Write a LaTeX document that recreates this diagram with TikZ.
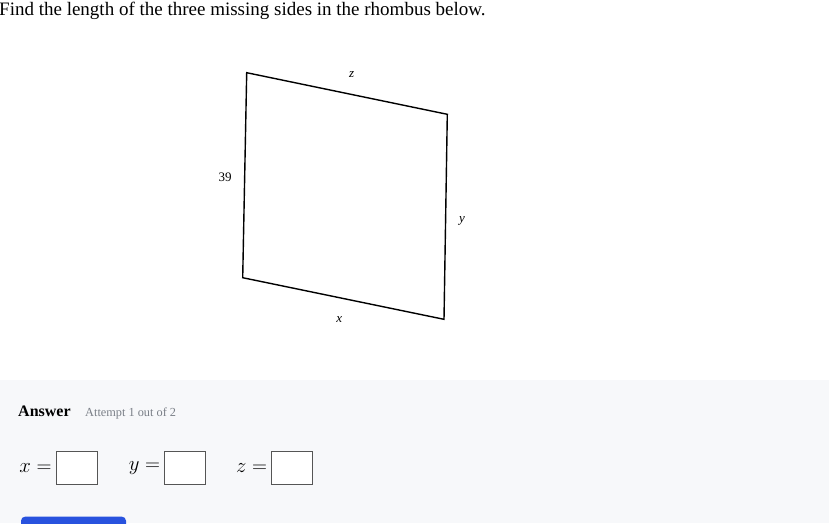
\documentclass[tikz,border=0pt]{standalone}
\usepackage{fontspec}
\setmainfont{Liberation Serif}
\definecolor{panelbg}{HTML}{F7F8FA}
\definecolor{btnblue}{RGB}{40,82,222}
\definecolor{boxedge}{HTML}{555555}
\definecolor{attemptgray}{HTML}{7A7F87}
\begin{document}
\begin{tikzpicture}[x=1pt,y=-1pt,
  lbl/.style={inner sep=0pt,font=\fontsize{13}{15}\selectfont\itshape},
  ansbox/.style={draw=boxedge,line width=1pt,fill=white,minimum width=41pt,minimum height=33pt,inner sep=0pt},
  mathlbl/.style={inner sep=0pt,anchor=east,font=\fontsize{20}{24}\selectfont}]
\useasboundingbox (0,0) rectangle (829,523);
\fill[white] (0,0) rectangle (829,523);
\fill[panelbg] (0,379.5) rectangle (829,523);
% title
\node[anchor=base west,inner sep=0pt,font=\fontsize{19}{22}\selectfont] (title) at (-1,15.5) {Find the length of the three missing sides in the rhombus below.};
% rhombus
\coordinate (A) at (246.7,72.7);
\coordinate (B) at (447.3,114.3);
\coordinate (C) at (444,319.3);
\coordinate (D) at (242.7,277.7);
\draw[line width=1.4pt,line join=miter] (A) -- (B) -- (C) -- (D) -- cycle;
\node[lbl] (lz) at (351.7,74.5) {z};
\node[lbl] (ly) at (462,221) {y};
\node[lbl] (lx) at (339.3,320) {x};
\node[inner sep=0pt,font=\fontsize{13}{15}\selectfont] (l39) at (225,177.3) {39};
% answer
\node[anchor=base west,inner sep=0pt,font=\fontsize{16}{19}\selectfont\bfseries] (ans) at (18,416) {Answer};
\node[anchor=base west,inner sep=0pt,font=\fontsize{12.3}{15}\selectfont,text=attemptgray] (att) at (85,416) {Attempt 1 out of 2};
\node[ansbox] (bx) at (76.8,467.8) {};
\node[ansbox] (by) at (185.3,467.8) {};
\node[ansbox] (bz) at (292.3,467.8) {};
\node[mathlbl] (mx) at ([xshift=-4pt]bx.west) {$x =$};
\node[mathlbl] (my) at ([xshift=-4pt]by.west) {$y =$};
\node[mathlbl] (mz) at ([xshift=-4pt]bz.west) {$z =$};
\fill[btnblue,rounded corners=4pt] (21,516.7) rectangle (126,530);
\end{tikzpicture}
\end{document}
